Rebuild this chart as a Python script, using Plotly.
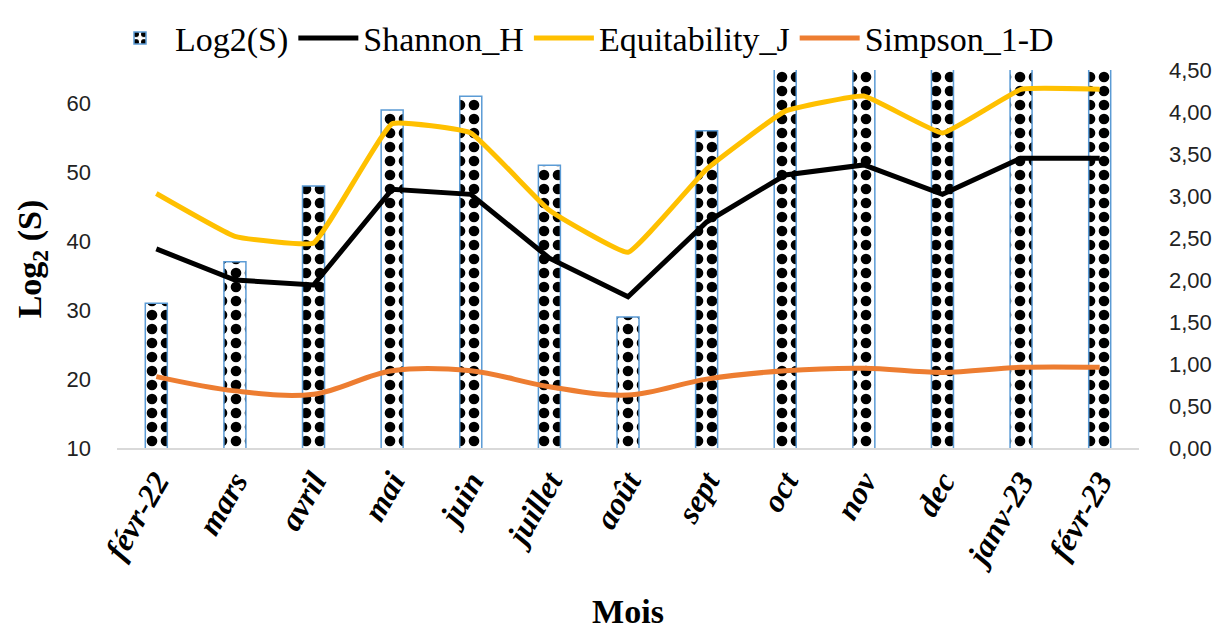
import plotly.graph_objects as go

months = ["févr-22", "mars", "avril", "mai", "juin", "juillet", "août",
          "sept", "oct", "nov", "dec", "janv-23", "févr-23"]
log2_s = [31, 37, 48, 59, 61, 51, 29, 56, 65, 65, 65, 65, 65]
shannon_h = [2.37, 2.00, 1.94, 3.08, 3.02, 2.26, 1.80, 2.69, 3.25, 3.37, 3.02, 3.45, 3.45]
equitability_j = [3.03, 2.52, 2.44, 3.86, 3.75, 2.83, 2.33, 3.32, 4.01, 4.19, 3.75, 4.27, 4.27]
simpson_1d = [0.85, 0.68, 0.64, 0.92, 0.92, 0.73, 0.63, 0.82, 0.92, 0.95, 0.90, 0.96, 0.96]

SERIF = "Liberation Serif, Times New Roman, serif"
SANS = "Liberation Sans, Arial, sans-serif"

fig = go.Figure()

fig.add_trace(go.Bar(
    x=months, y=log2_s, name="Log2(S)", width=0.28,
    marker=dict(color="white", line=dict(color="#5B9BD5", width=1.5),
                pattern=dict(shape=".", size=14, solidity=0.45, fgopacity=1,
                             fgcolor="black", bgcolor="white", fillmode="replace")),
    yaxis="y"
))
fig.add_trace(go.Scatter(
    x=months, y=shannon_h, name="Shannon_H", mode="lines",
    line=dict(color="black", width=5), yaxis="y2"
))
fig.add_trace(go.Scatter(
    x=months, y=equitability_j, name="Equitability_J", mode="lines",
    line=dict(color="#FFC000", width=5, shape="spline", smoothing=0.3), yaxis="y2"
))
fig.add_trace(go.Scatter(
    x=months, y=simpson_1d, name="Simpson_1-D", mode="lines",
    line=dict(color="#ED7D31", width=5, shape="spline", smoothing=1), yaxis="y2"
))

# page body has an 8px margin, so the figure is sized and placed with that in mind
fig.update_layout(
    width=1215, height=629,
    margin=dict(l=109, r=84, t=62, b=189, autoexpand=False),
    plot_bgcolor="white", paper_bgcolor="white",
    separators=", ",
    showlegend=True,
    legend=dict(orientation="h", x=0.455, xanchor="center", y=1.16, yanchor="top",
                font=dict(family=SERIF, size=34, color="black"),
                itemwidth=60, tracegroupgap=0),
    xaxis=dict(
        tickangle=-60, automargin=False,
        tickfont=dict(family=SERIF, size=32, color="black", weight="bold", style="italic"),
        showline=True, linecolor="#D9D9D9", linewidth=2,
        showgrid=False, ticks="",
        title=dict(text="Mois", font=dict(family=SERIF, size=34, color="black", weight="bold"),
                   standoff=26),
    ),
    yaxis=dict(
        range=[10, 64.8], tickvals=[10, 20, 30, 40, 50, 60], automargin=False,
        showgrid=False, zeroline=False, showline=False,
        tickfont=dict(family=SANS, size=22, color="#222"),
        ticklabelstandoff=25,
        title=dict(text="Log<sub>2</sub> (S)",
                   font=dict(family=SERIF, size=34, color="black", weight="bold"),
                   standoff=14),
    ),
    yaxis2=dict(
        overlaying="y", side="right", automargin=False,
        range=[0, 4.5], dtick=0.5, tickformat=".2f",
        showgrid=False, zeroline=False, showline=False,
        tickfont=dict(family=SANS, size=22, color="#222"),
        ticklabelstandoff=29,
    ),
    bargap=0.7,
)

fig.write_html("out.html")
